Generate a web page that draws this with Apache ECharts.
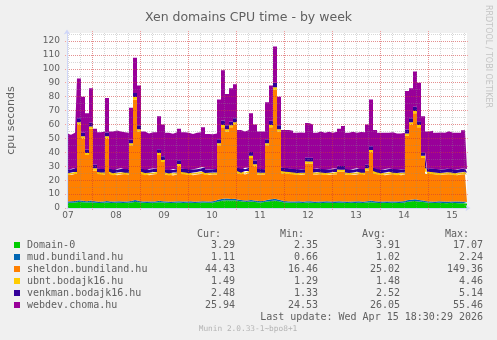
<!DOCTYPE html>
<html>
<head>
<meta charset="utf-8">
<script src="https://cdn.jsdelivr.net/npm/echarts@6/dist/echarts.min.js"></script>
<style>
  html, body { margin: 0; padding: 0; background: #F0F0F0; }
  #chart { width: 497px; height: 340px; }
</style>
</head>
<body>
<div id="chart"></div>
<script>
// ---- data: 2-hour samples, first sample at Apr 7 11:30 ----
const sampleStartHour = 11.5;   // hours after Apr 7 00:00
const sampleStepHours = 2;

const dayLabels = ['07', '08', '09', '10', '11', '12', '13', '14', '15'];

const seriesNames = ['Domain-0', 'mud.bundiland.hu', 'sheldon.bundiland.hu',
                     'ubnt.bodajk16.hu', 'venkman.bodajk16.hu', 'webdev.choma.hu'];
const seriesColors = ['#00CC00', '#0066B3', '#FF8000', '#FFCC00', '#330099', '#990099'];

const domain0 = [
  3.7,3.8,3.9,4.3,4.1,3.9,4.2,3.8,3.6,3.7,
  3.9,3.6,3.7,3.8,3.6,3.7,4.0,4.4,4.1,3.7,
  3.6,3.8,3.7,4.1,3.9,3.7,3.6,3.7,3.9,3.6,
  3.7,3.8,3.6,3.7,3.9,3.7,3.8,4.2,4.9,5.4,
  5.6,5.3,5.5,5.0,4.6,4.4,4.7,4.3,4.0,4.1,
  4.6,5.0,5.3,4.8,4.2,3.9,3.8,3.7,3.8,3.6,
  3.9,3.8,3.6,3.7,3.6,3.8,3.7,3.6,3.8,3.7,
  3.6,3.7,3.6,3.8,3.6,3.9,4.2,3.8,3.6,3.7,
  3.6,3.7,3.8,3.6,3.8,4.4,4.8,5.0,4.7,4.3,
  3.9,3.7,3.6,3.8,3.6,3.5,3.7,3.6,3.5,3.4,
  3.3];

const mud = [
  1.0,1.0,1.1,1.2,1.1,1.0,1.1,1.0,0.9,1.0,
  1.1,1.0,0.9,1.0,1.0,1.0,1.1,1.3,1.1,1.0,
  1.0,0.9,1.0,1.1,1.0,1.0,0.9,1.0,1.0,1.0,
  1.0,1.0,0.9,1.0,1.0,1.0,0.9,1.0,1.2,1.3,
  1.2,1.1,1.2,1.0,1.0,1.0,1.1,1.0,1.0,1.0,
  1.1,1.2,1.3,1.1,1.0,1.0,0.9,1.0,1.0,0.9,
  1.0,1.0,0.9,1.0,1.0,1.0,0.9,1.0,1.0,1.0,
  0.9,1.0,1.0,1.0,0.9,1.0,1.1,1.0,1.0,0.9,
  1.0,1.0,0.9,1.0,1.0,1.1,1.2,1.2,1.1,1.0,
  1.0,1.0,0.9,1.0,1.0,1.0,1.0,1.0,1.1,1.1,
  1.1];

const sheldon = [
  19.3,18.9,19.5,54.5,44.8,33.1,51.7,22.2,19.9,19.3,
  45.0,19.9,19.0,19.2,19.8,19.3,39.9,72.3,49.8,19.8,
  19.0,19.3,19.7,32.8,28.1,19.3,18.9,19.3,25.1,19.8,
  19.3,18.8,19.5,19.7,20.1,19.0,19.3,18.8,38.9,51.3,
  48.2,51.6,53.3,19.0,18.4,19.6,30.2,24.7,19.0,18.9,
  39.3,51.8,78.4,49.1,19.8,19.6,19.8,19.3,18.9,19.5,
  27.1,27.2,19.5,19.8,19.4,18.9,19.4,19.7,21.2,21.3,
  19.5,19.0,19.4,19.8,19.5,22.1,34.7,20.2,19.4,18.9,
  19.4,19.8,19.3,19.0,19.2,46.5,54.0,61.8,52.2,30.7,
  19.6,19.8,19.5,18.9,19.4,19.7,19.3,19.0,19.4,19.8,
  19.6];

const ubnt = [
  1.5,1.5,1.4,1.6,1.5,1.5,1.6,1.5,1.4,1.5,
  1.6,1.5,1.4,1.5,1.5,1.4,1.5,1.7,1.6,1.5,
  1.5,1.4,1.5,1.6,1.5,1.5,1.4,1.5,1.6,1.5,
  1.5,1.4,1.5,1.5,1.6,1.5,1.4,1.5,1.6,1.7,
  1.6,1.5,1.6,1.5,1.4,1.5,1.6,1.5,1.5,1.4,
  1.6,1.7,1.8,1.6,1.5,1.5,1.4,1.5,1.5,1.4,
  1.6,1.5,1.5,1.4,1.5,1.5,1.4,1.5,1.6,1.5,
  1.5,1.4,1.5,1.5,1.4,1.5,1.6,1.5,1.5,1.4,
  1.5,1.5,1.4,1.5,1.5,1.6,1.6,1.7,1.6,1.5,
  1.5,1.4,1.5,1.5,1.4,1.5,1.5,1.4,1.5,1.5,
  1.5];

const venkman = [
  2.6,2.5,2.4,2.8,2.6,2.5,2.7,2.5,2.4,2.6,
  2.7,2.5,2.4,2.5,2.6,2.4,2.6,3.0,2.8,2.5,
  2.4,2.6,2.5,2.7,2.6,2.4,2.5,2.6,2.7,2.4,
  2.5,2.6,2.4,2.5,2.7,2.5,2.4,2.5,2.8,3.1,
  2.9,2.7,2.8,2.6,2.5,2.4,2.7,2.6,2.5,2.4,
  2.8,3.0,3.2,2.8,2.6,2.5,2.4,2.6,2.5,2.4,
  2.7,2.6,2.5,2.4,2.6,2.5,2.4,2.6,2.7,2.6,
  2.5,2.4,2.6,2.5,2.4,2.6,2.8,2.5,2.4,2.6,
  2.5,2.4,2.6,2.5,2.4,2.8,2.9,3.0,2.8,2.6,
  2.5,2.4,2.6,2.5,2.4,2.5,2.6,2.4,2.5,2.5,
  2.5];

const webdev = [
  25.4,25.0,25.7,28.6,25.9,26.0,24.7,26.0,26.2,26.9,
  24.7,26.5,28.2,27.0,25.9,26.2,22.9,25.3,28.6,26.5,
  26.1,26.5,26.0,23.7,22.9,26.1,26.1,26.4,22.7,26.1,
  26.0,25.5,26.1,26.0,28.7,25.5,25.2,25.5,28.6,36.2,
  22.5,23.8,24.6,26.9,27.1,27.1,27.7,25.9,27.0,27.2,
  26.6,25.3,26.0,20.6,26.9,27.5,27.2,25.9,26.5,26.2,
  24.7,23.9,26.0,26.7,25.9,27.0,26.2,26.4,26.7,28.9,
  26.0,27.2,25.9,26.0,26.7,28.9,33.6,27.0,26.1,26.5,
  26.0,26.1,25.5,26.0,26.1,27.6,21.5,25.3,27.6,25.9,
  26.5,27.2,25.9,26.5,26.2,27.0,25.9,26.7,26.0,27.5,
  27.0];

// legend statistics
const statHeaders = ['Cur:', 'Min:', 'Avg:', 'Max:'];
const statsCur = ['3.29', '1.11', '44.43', '1.49', '2.48', '25.94'];
const statsMin = ['2.35', '0.66', '16.46', '1.29', '1.33', '24.53'];
const statsAvg = ['3.91', '1.02', '25.02', '1.48', '2.52', '26.05'];
const statsMax = ['17.07', '2.24', '149.36', '4.46', '5.14', '55.46'];

const titleText = 'Xen domains CPU time - by week';
const yTitle = 'cpu seconds';
const lastUpdate = 'Last update: Wed Apr 15 18:30:29 2026';
const muninVersion = 'Munin 2.0.33-1~bpo8+1';
const rrdCredit = 'RRDTOOL / TOBI OETIKER';

// ---- layout ----
const W = 497, H = 340;
const X_LEFT = 67, Y_BASE = 208, Y_TOP = 33;
const PX_PER_HOUR = 2, PX_PER_UNIT = 1.3917;
const H_START = 11.5, H_END = 211.5;
const hx = h => X_LEFT + (h - H_START) * PX_PER_HOUR;
const vy = v => Y_BASE - v * PX_PER_UNIT;

const valueLists = [domain0, mud, sheldon, ubnt, venkman, webdev];
const hours = domain0.map((_, i) => sampleStartHour + i * sampleStepHours);

const SANS = '"DejaVu Sans", sans-serif';
const MONO = '"DejaVu Sans Mono", monospace';
const TEXT = '#606060';
const AXIS = '#CFD6F8';
const MINOR = 'rgba(140,140,140,0.35)';
const MAJOR = 'rgba(255,0,0,0.33)';

function area(h0, h1, top, bottom) {
  return { left: hx(h0), right: W - hx(h1), top: top, bottom: H - bottom, containLabel: false };
}
function hiddenAxis(extra) {
  return Object.assign({ type: 'value', axisLine: { show: false }, axisTick: { show: false },
    axisLabel: { show: false }, splitLine: { show: false } }, extra);
}

const grids = [
  // 0: data
  Object.assign(area(H_START, H_END, Y_TOP, Y_BASE), { show: true, backgroundColor: '#FFFFFF', borderWidth: 0 }),
  // 1: minor vertical lines every 6 hours
  area(12, 210, Y_TOP, Y_BASE),
  // 2: minor horizontal lines every 5
  area(H_START, H_END, vy(125), Y_BASE),
  // 3: major vertical lines at midnight
  area(24, 192, Y_TOP - 2, Y_BASE + 2),
  // 4: major horizontal lines every 10 (with value labels)
  { left: X_LEFT - 2, right: W - hx(H_END) - 2, top: vy(120), bottom: H - Y_BASE },
  // 5: day labels at noon
  area(12, 204, Y_TOP, Y_BASE)
];

const yMaxData = (Y_BASE - Y_TOP) / PX_PER_UNIT;

const xAxes = [
  hiddenAxis({ gridIndex: 0, type: 'category', boundaryGap: false, data: hours, z: 6,
    axisLine: { show: true, lineStyle: { color: AXIS, width: 1 },
      symbol: ['none', 'arrow'], symbolSize: [5, 5], symbolOffset: [0, 3.5] } }),
  hiddenAxis({ gridIndex: 1, min: 12, max: 210, interval: 6, z: 4,
    splitLine: { show: true, lineStyle: { color: MINOR, type: [1, 1], width: 1 } } }),
  hiddenAxis({ gridIndex: 2, min: H_START, max: H_END }),
  hiddenAxis({ gridIndex: 3, min: 24, max: 192, interval: 24, z: 5,
    splitLine: { show: true, lineStyle: { color: MAJOR, type: [1, 1], width: 1 } } }),
  hiddenAxis({ gridIndex: 4, min: H_START, max: H_END }),
  hiddenAxis({ gridIndex: 5, min: 12, max: 204, interval: 24,
    axisLabel: { show: true, margin: 3, color: TEXT, fontSize: 9, fontFamily: SANS,
      formatter: v => dayLabels[Math.round((v - 12) / 24)] } })
];

const yAxes = [
  hiddenAxis({ gridIndex: 0, min: 0, max: yMaxData, z: 6,
    axisLine: { show: true, lineStyle: { color: AXIS, width: 1 },
      symbol: ['none', 'arrow'], symbolSize: [5, 5], symbolOffset: [0, 3.5] } }),
  hiddenAxis({ gridIndex: 1, min: 0, max: 1 }),
  hiddenAxis({ gridIndex: 2, min: 0, max: 125, interval: 5, z: 4,
    splitLine: { show: true, lineStyle: { color: MINOR, type: [1, 1], width: 1 } } }),
  hiddenAxis({ gridIndex: 3, min: 0, max: 1 }),
  hiddenAxis({ gridIndex: 4, min: 0, max: 120, interval: 10, z: 5,
    splitLine: { show: true, lineStyle: { color: MAJOR, type: [1, 1], width: 1 } },
    axisLabel: { show: true, margin: 5, color: TEXT, fontSize: 9, fontFamily: SANS } }),
  hiddenAxis({ gridIndex: 5, min: 0, max: 1 })
];

const series = seriesNames.map((name, s) => ({
  name: name,
  type: 'line',
  xAxisIndex: 0,
  yAxisIndex: 0,
  stack: 'cpu',
  step: 'middle',
  symbol: 'none',
  silent: true,
  z: 2,
  lineStyle: { width: 0, opacity: 0 },
  areaStyle: { color: seriesColors[s], opacity: 1 },
  data: valueLists[s]
}));

// ---- legend table, rrdtool style ----
const ROW0 = 245, ROW_STEP = 12;
const colRight = [235, 318, 400, 483];
const headRight = [221, 304, 386, 469];
const statCols = [statsCur, statsMin, statsAvg, statsMax];

function txt(x, y, text, font, fill, align) {
  return { type: 'text', x: x, y: y, silent: true,
    style: { text: text, font: font, fill: fill, textAlign: align || 'left', textVerticalAlign: 'middle' } };
}

const graphics = [];
graphics.push(Object.assign(txt(11.5, (Y_TOP + Y_BASE) / 2, yTitle, '11px ' + SANS, TEXT, 'center'),
  { rotation: Math.PI / 2 }));
graphics.push(Object.assign(txt(488.5, 56.5, rrdCredit, '8px ' + SANS, '#C4C4C4', 'center'),
  { rotation: -Math.PI / 2 }));

statHeaders.forEach((hd, c) => graphics.push(txt(headRight[c], 234, hd, '10px ' + MONO, TEXT, 'right')));
seriesNames.forEach((name, s) => {
  const y = ROW0 + s * ROW_STEP;
  graphics.push({ type: 'rect', silent: true, shape: { x: 14, y: y - 3, width: 6, height: 6 },
    style: { fill: seriesColors[s] } });
  graphics.push(txt(27, y, name, '10px ' + MONO, TEXT, 'left'));
  statCols.forEach((col, c) => graphics.push(txt(colRight[c], y, col[s], '10px ' + MONO, TEXT, 'right')));
});
graphics.push(txt(483, 317.5, lastUpdate, '10px ' + MONO, TEXT, 'right'));
graphics.push(txt(248, 329, muninVersion, '7.8px ' + MONO, '#B4B4B4', 'center'));

const chart = echarts.init(document.getElementById('chart'), null, { renderer: 'canvas' });
chart.setOption({
  animation: false,
  backgroundColor: '#F0F0F0',
  title: {
    text: titleText, left: 'center', top: 5,
    textStyle: { color: TEXT, fontSize: 12.5, fontWeight: 'normal', fontFamily: SANS, lineHeight: 16 }
  },
  grid: grids,
  xAxis: xAxes,
  yAxis: yAxes,
  series: series,
  graphic: graphics
});
</script>
</body>
</html>
